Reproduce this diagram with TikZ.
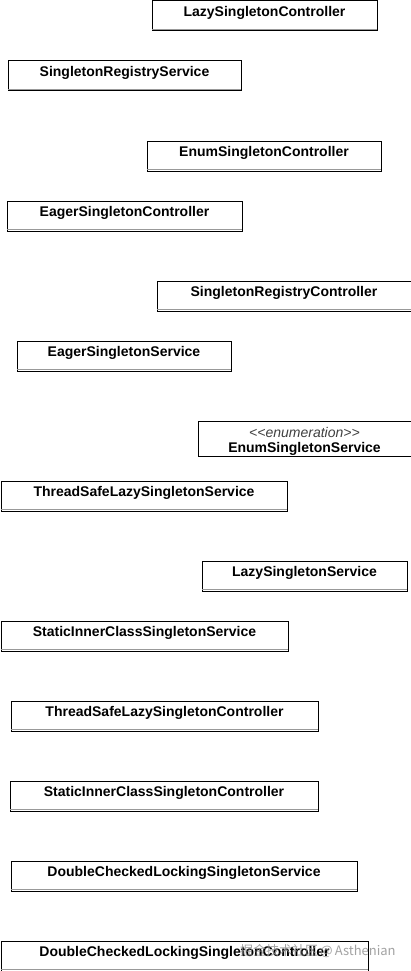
\documentclass[tikz,border=0pt]{standalone}
\usepackage{fontspec}
\setmainfont{Liberation Sans}
\newfontfamily\cjkfont{Noto Sans CJK SC}
\begin{document}
\begin{tikzpicture}[x=1pt,y=-1pt,
  clsbox/.style={draw=black, line width=1pt, rectangle, inner sep=0pt, fill=white},
  clstext/.style={font=\fontsize{14}{16}\selectfont\bfseries, inner sep=0pt, anchor=center},
  stereo/.style={font=\fontsize{14}{16}\selectfont\itshape, text=black!75, inner sep=0pt},
  sepline/.style={draw=black!40, line width=0.8pt},
  wmark/.style={font=\fontsize{13}{15}\selectfont, text=black!45, opacity=0.8, inner sep=0pt, anchor=west}]
\useasboundingbox (0,0) rectangle (411,971);
\newcommand\classbox[6]{%
  \node[clsbox, minimum width=#4pt, minimum height=#5pt, anchor=north west] (#1) at (#2,#3) {};
  \node[clstext] (#1-t) at ([yshift=-12.5pt]#1.north) {#6};
  \draw[sepline] ([yshift=2pt,xshift=0.5pt]#1.south west) -- ([yshift=2pt,xshift=-0.5pt]#1.south east);
}
\classbox{lsc}{151.5}{0.5}{225}{30}{LazySingletonController}
\classbox{srs}{7.5}{60.5}{233}{30}{SingletonRegistryService}
\classbox{esc}{146.5}{140.5}{234}{30}{EnumSingletonController}
\classbox{egc}{6.5}{200.5}{235}{30}{EagerSingletonController}
\classbox{src}{156.5}{280.5}{254}{30}{SingletonRegistryController}
\classbox{egs}{16.5}{340.5}{214}{30}{EagerSingletonService}
% enumeration box
\node[clsbox, minimum width=213pt, minimum height=35pt, anchor=north west] (ess) at (197.5,420.5) {};
\node[stereo] (ess-s) at ([yshift=-12pt]ess.north) {{<}{<}enumeration{>}{>}};
\node[clstext] (ess-t) at ([yshift=-28.5pt]ess.north) {EnumSingletonService};
\classbox{tsls}{0.5}{480.5}{286}{30}{ThreadSafeLazySingletonService}
\classbox{lss}{201.5}{560.5}{205}{30}{LazySingletonService}
\classbox{sics}{0.5}{620.5}{287}{30}{StaticInnerClassSingletonService}
\classbox{tslc}{10.5}{700.5}{307}{30}{ThreadSafeLazySingletonController}
\classbox{sicc}{9.5}{780.5}{308}{30}{StaticInnerClassSingletonController}
\classbox{dcls}{10.5}{860.5}{346}{30}{DoubleCheckedLockingSingletonService}
\classbox{dclc}{0.5}{940.5}{367}{30}{DoubleCheckedLockingSingletonController}
\node[wmark] (wm) at (240,951) {\cjkfont 掘金技术社区\,@\,Asthenian};
\end{tikzpicture}
\end{document}
